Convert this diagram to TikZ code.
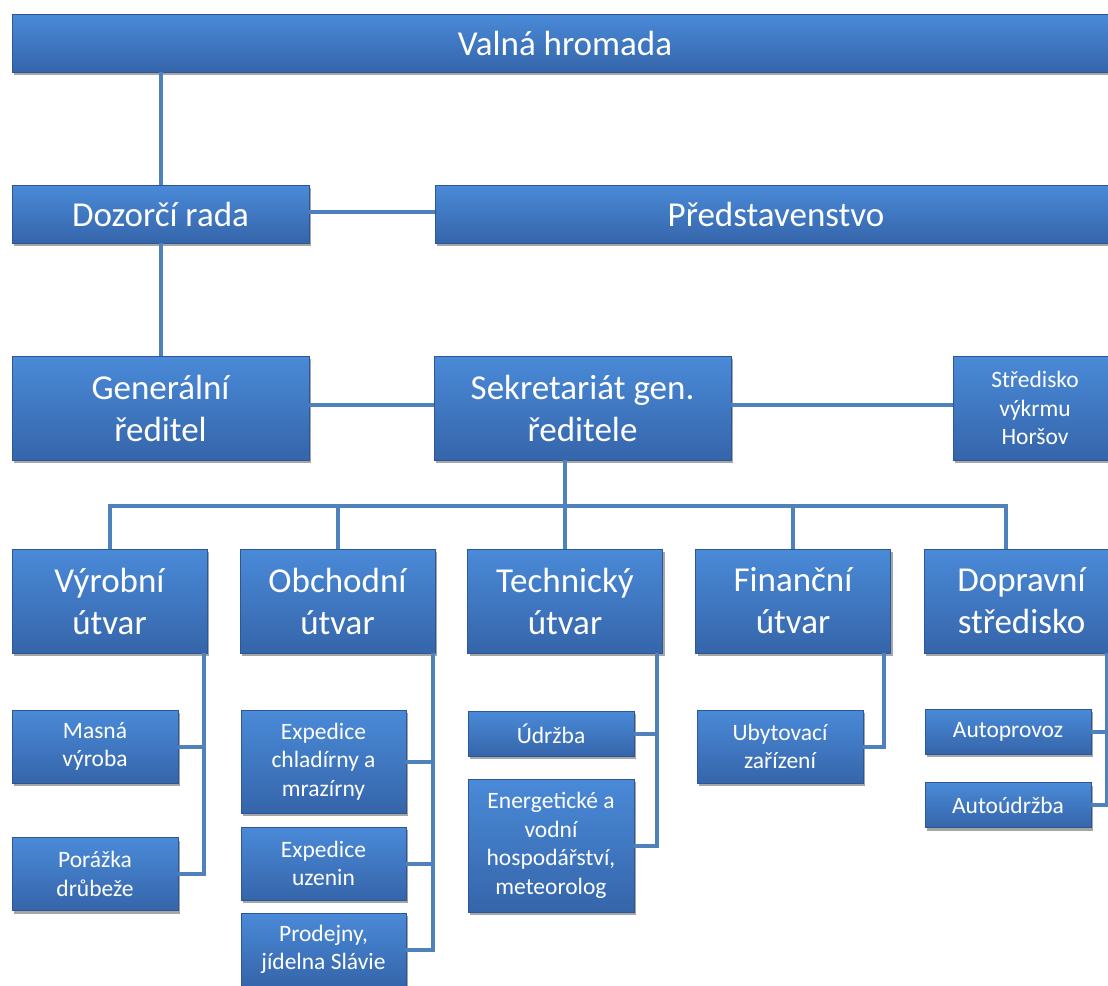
\documentclass[tikz,border=0pt]{standalone}
\usepackage{fontspec}
\setmainfont{Carlito}
\usetikzlibrary{shadows}
\definecolor{boxtop}{HTML}{4A8AD8}
\definecolor{boxbot}{HTML}{3565AA}
\definecolor{boxrim}{HTML}{2D5794}
\definecolor{linkblue}{HTML}{4F81BD}

\begin{document}
\begin{tikzpicture}[x=1pt,y=-1pt,
  unit/.style={draw=boxrim,line width=0.8pt,top color=boxtop,bottom color=boxbot,
    text=white,align=center,inner sep=0pt,
    drop shadow={shadow xshift=2pt,shadow yshift=-3pt,opacity=0.35,fill=black}},
  big/.style={unit,font=\fontsize{35}{42}\selectfont},
  small/.style={unit,font=\fontsize{23.5}{28.5}\selectfont},
  link/.style={draw=linkblue,line width=4pt}]
  \useasboundingbox (0,0) rectangle (1108,985);
  \clip (0,0) rectangle (1108,985);

  % top levels
  \node[big,minimum width=1106pt,minimum height=58pt] (valna) at (565,43) {Valná hromada};
  \node[big,minimum width=297pt,minimum height=58pt] (dozor) at (160.5,214) {Dozorčí rada};
  \node[big,minimum width=682pt,minimum height=58pt] (predst) at (776,214) {Představenstvo};
  \node[big,minimum width=297pt,minimum height=104pt] (gen) at (160.5,408) {Generální\\ředitel};
  \node[big,minimum width=297pt,minimum height=104pt] (sekr) at (582.5,408) {Sekretariát gen.\\ředitele};
  \node[small,minimum width=164pt,minimum height=104pt] (stred) at (1035,408) {Středisko\\výkrmu\\Horšov};

  % departments
  \foreach \name/\x/\lab in {vyr/109.5/{Výrobní\\útvar},obch/337.5/{Obchodní\\útvar},
      tech/565/{Technický\\útvar},fin/793/{Finanční\\útvar},dopr/1021.5/{Dopravní\\středisko}}
    \node[big,minimum width=195pt,minimum height=104pt] (\name) at (\x,601) {\lab};

  % sections
  \node[small,minimum width=166pt,minimum height=73pt] (masna) at (95,746.5) {Masná\\výroba};
  \node[small,minimum width=166pt,minimum height=73pt] (poraz) at (95,874) {Porážka\\drůbeže};
  \node[small,minimum width=165pt,minimum height=103pt] (expch) at (323.5,761.5) {Expedice\\chladírny a\\mrazírny};
  \node[small,minimum width=165pt,minimum height=73pt] (expuz) at (323.5,863.5) {Expedice\\uzenin};
  \node[small,minimum width=165pt,minimum height=73pt] (prod) at (323.5,949.5) {Prodejny,\\jídelna Slávie};
  \node[small,minimum width=166pt,minimum height=45pt] (udrz) at (551,733.5) {Údržba};
  \node[small,minimum width=166pt,minimum height=133pt] (energ) at (551,845.5) {Energetické a\\vodní\\hospodářství,\\meteorolog};
  \node[small,minimum width=166pt,minimum height=73pt] (ubyt) at (780,746.5) {Ubytovací\\zařízení};
  \node[small,minimum width=166pt,minimum height=45pt] (autop) at (1008,731.5) {Autoprovoz};
  \node[small,minimum width=166pt,minimum height=45pt] (autou) at (1008,805) {Autoúdržba};

  % links
  \draw[link] (dozor.north |- valna.south) -- (dozor.north);
  \draw[link] (dozor.south) -- (gen.north);
  \draw[link] ([yshift=2pt]dozor.east) -- ([yshift=2pt]predst.west);
  \draw[link] ([yshift=3pt]gen.east) -- ([yshift=3pt]sekr.west);
  \draw[link] ([yshift=3pt]sekr.east) -- ([yshift=3pt]stred.west);

  \coordinate (bus) at (0,506);
  \coordinate (dropD) at ([xshift=-16pt]dopr.north);
  \draw[link] (tech.north |- sekr.south) -- (tech.north);
  \draw[link] (vyr.north) -- (vyr.north |- bus) -- (dropD |- bus) -- (dropD);
  \draw[link] (obch.north) -- (obch.north |- bus);
  \draw[link] (fin.north) -- (fin.north |- bus);

  \coordinate (vyrR) at ([xshift=-3pt]vyr.south east);
  \coordinate (obchR) at ([xshift=-2pt]obch.south east);
  \coordinate (techR) at ([xshift=-6pt]tech.south east);
  \coordinate (finR) at ([xshift=-7pt]fin.south east);
  \coordinate (doprR) at ([xshift=-12pt]dopr.south east);
  \draw[link] (vyrR) |- (masna.east);
  \draw[link] (vyrR) |- (poraz.east);
  \draw[link] (obchR) |- (expch.east);
  \draw[link] (obchR) |- (expuz.east);
  \draw[link] (obchR) |- (prod.east);
  \draw[link] (techR) |- (udrz.east);
  \draw[link] (techR) |- (energ.east);
  \draw[link] (finR) |- (ubyt.east);
  \draw[link] (doprR) |- (autop.east);
  \draw[link] (doprR) |- (autou.east);
\end{tikzpicture}
\end{document}
